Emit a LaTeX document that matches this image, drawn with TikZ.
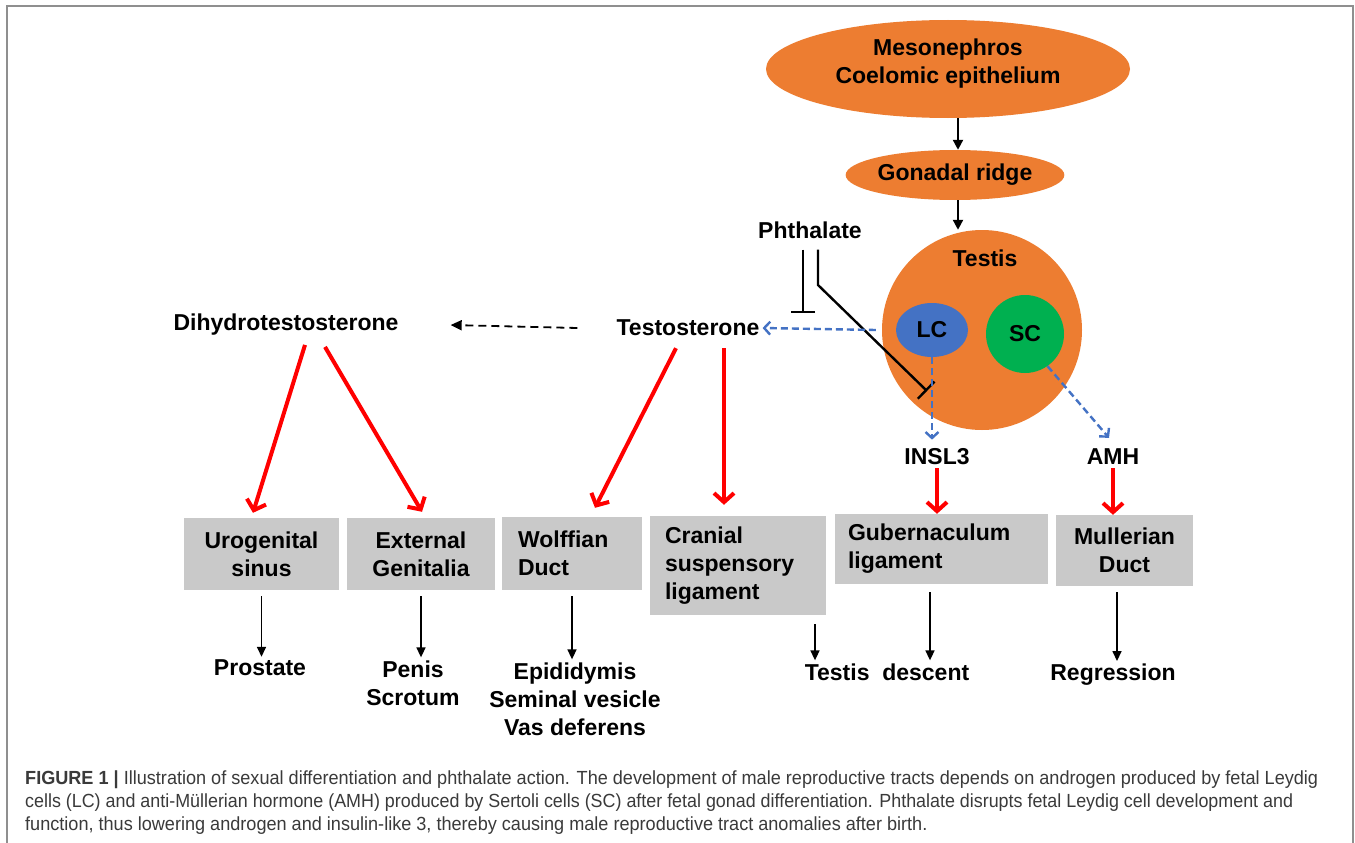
\documentclass[tikz,border=0pt]{standalone}
\usepackage{fontspec}
\setmainfont{Liberation Sans}
\usetikzlibrary{arrows.meta,shapes.geometric}
\definecolor{orng}{HTML}{ED7D31}
\definecolor{lcblue}{HTML}{4472C4}
\definecolor{scgreen}{HTML}{00B050}
\definecolor{boxgray}{HTML}{C9C9C9}
\definecolor{framegray}{HTML}{8F8F8F}
\definecolor{capgray}{HTML}{3A3A3A}
\definecolor{arrred}{HTML}{FF0000}
\newsavebox\capbox
\newcommand\capfont{\fontsize{19}{24}\selectfont\mdseries}
\begin{document}
\sbox\capbox{\capfont{\bfseries FIGURE 1 |} Illustration of sexual differentiation and phthalate action. The development of male reproductive tracts depends on androgen produced by fetal Leydig}%
\pgfmathsetmacro\capscale{1293/\the\wd\capbox}%
\begin{tikzpicture}[x=1pt,y=-1pt,
  every node/.style={font=\fontsize{23}{28}\selectfont\bfseries},
  lbl/.style={inner sep=3pt, align=center},
  orangeell/.style={ellipse, fill=orng, inner sep=0pt, align=center},
  gbox/.style={rectangle, fill=boxgray, inner ysep=0pt},
  blkarr/.style={-{Triangle[length=10pt,width=9pt]}, line width=1.6pt, black},
  blkthick/.style={-{Triangle[length=10pt,width=10pt]}, line width=2.2pt, black},
  blkdash/.style={-{Triangle[length=11pt,width=10pt]}, line width=1.8pt, black, dash pattern=on 8pt off 5pt},
  bluedash/.style={-{Straight Barb[length=6pt,width=13pt]}, line width=2.4pt, lcblue, dash pattern=on 7pt off 4pt},
  redarr/.style={-{Straight Barb[length=9pt,width=20pt]}, line width=4pt, arrred},
  inhib/.style={-{Bar[width=24pt]}, line width=2.4pt, black},
  capline/.style={font=\capfont, text=capgray, anchor=base west, inner sep=0pt}]
\useasboundingbox (0,0) rectangle (1355,843);
\fill[white] (0,0) rectangle (1355,843);
\draw[framegray, line width=2pt] (7,843) -- (7,6) -- (1353,6) -- (1353,843);

% top structures
\node[orangeell, minimum width=364pt, minimum height=98pt] (meso) at (948,69) {};
\node[lbl] (mesotext) at (948,64) {Mesonephros\\Coelomic epithelium};
\node[orangeell, minimum width=214pt, minimum height=50pt] (gonad) at (955,175) {Gonadal ridge};
\node[circle, fill=orng, minimum size=200pt, inner sep=0pt] (testis) at (982,330) {};
\node[lbl] (testislbl) at (985,258) {Testis};
\node[ellipse, fill=lcblue, minimum width=72pt, minimum height=54pt, inner sep=0pt] (lc) at (932,330) {LC};
\node[circle, fill=scgreen, minimum size=78pt, inner sep=0pt] (sc) at (1025,334) {SC};

% labels
\node[lbl] (phth) at (810,230) {Phthalate};
\node[lbl] (testo) at (688,328) {Testosterone};
\node[lbl] (dht) at (286,325) {Dihydrotestosterone};
\node[lbl] (insl3) at (937,457) {INSL3};
\node[lbl] (amh) at (1113,457) {AMH};

% boxes
\node[gbox, inner xsep=6pt, text width=143pt, minimum height=72pt, align=center] (ugs) at (261.5,554) {Urogenital\\sinus};
\node[gbox, inner xsep=6pt, text width=136pt, minimum height=72pt, align=center] (ext) at (421,554) {External\\Genitalia};
\node[gbox, inner xsep=16pt, text width=108pt, minimum height=73pt, align=left] (wolff) at (572,553.5) {Wolffian\\Duct};
\node[gbox, inner xsep=15pt, text width=146pt, minimum height=99pt, align=left] (cran) at (738,565.5) {Cranial\\suspensory\\ligament};
\node[gbox, inner xsep=13pt, text width=187pt, minimum height=70pt, align=left] (gub) at (941.5,549) {Gubernaculum\\ligament};
\node[gbox, inner xsep=6pt, text width=125pt, minimum height=71pt, align=center] (mull) at (1124.5,550.5) {Mullerian\\Duct};

% outcomes
\node[lbl] (prost) at (260,668) {Prostate};
\node[lbl] (penis) at (413,683) {Penis\\Scrotum};
\node[lbl] (epid) at (575,699) {Epididymis\\Seminal vesicle\\Vas deferens};
\node[lbl] (tdesc) at (887,672) {Testis\ \ descent};
\node[lbl] (regr) at (1113,675) {Regression};

% connectors
\draw[blkthick] ([xshift=10pt]meso.south) -- ([xshift=3pt]gonad.north);
\draw[blkthick] ([xshift=3pt]gonad.south) -- ([xshift=3pt]gonad.south |- testis.north);

\coordinate (inhA) at (803,313);
\coordinate (bend) at (818,285);
\coordinate (inhB) at (927,391);
\draw[inhib] ([xshift=-7pt,yshift=-8pt]phth.south) -- (inhA);
\draw[inhib] ([xshift=8pt,yshift=-8pt]phth.south) -- (bend) -- (inhB);

\draw[bluedash] ([xshift=-20pt]lc.west) -- (testo.east);
\draw[bluedash, shorten >=6pt] (lc.south) -- (lc.south |- insl3.north);
\draw[bluedash] (sc.-55) -- ([xshift=-4pt,yshift=8pt]amh.north);

\draw[blkdash] ([xshift=-36pt]testo.west) -- ([xshift=49pt]dht.east);

\draw[redarr] ([xshift=19pt,yshift=-6pt]dht.south) -- ([xshift=-8.5pt,yshift=5pt]ugs.north);
\draw[redarr] ([xshift=39pt,yshift=-8pt]dht.south) -- ([xshift=1pt,yshift=6pt]ext.north);
\draw[redarr] ([xshift=-12pt,yshift=-9pt]testo.south) -- ([xshift=23pt,yshift=9pt]wolff.north);
\draw[redarr] ([xshift=36pt,yshift=-9pt]testo.south) -- ([xshift=-14pt,yshift=11pt]cran.north);
\draw[redarr] (insl3.south) -- (insl3.south |- gub.north);
\draw[redarr] (amh.south) -- (amh.south |- mull.north);

\draw[blkarr] ([yshift=-6pt]ugs.south) -- (ugs.south |- prost.north);
\draw[blkarr] ([yshift=-6pt]ext.south) -- (ext.south |- penis.north);
\draw[blkarr] ([yshift=-6pt]wolff.south) -- (wolff.south |- epid.north);
\draw[blkarr] ([xshift=77pt,yshift=-9pt]cran.south) -- ([xshift=77pt]cran.south |- tdesc.north);
\draw[blkarr] ([xshift=-11.5pt,yshift=-8pt]gub.south) -- ([xshift=-11.5pt]gub.south |- tdesc.north);
\draw[blkarr] ([xshift=-7.5pt,yshift=-6pt]mull.south) -- ([xshift=-7.5pt]mull.south |- regr.north);

% caption
\node[capline] (cap1) at (25,784) {\scalebox{\capscale}[1]{{\bfseries FIGURE 1 |} Illustration of sexual differentiation and phthalate action. The development of male reproductive tracts depends on androgen produced by fetal Leydig}};
\node[capline] (cap2) at (25,807) {\resizebox{1268pt}{\height}{cells (LC) and anti-Müllerian hormone (AMH) produced by Sertoli cells (SC) after fetal gonad differentiation. Phthalate disrupts fetal Leydig cell development and}};
\node[capline] (cap3) at (25,830) {\scalebox{\capscale}[1]{function, thus lowering androgen and insulin-like 3, thereby causing male reproductive tract anomalies after birth.}};
\end{tikzpicture}
\end{document}
